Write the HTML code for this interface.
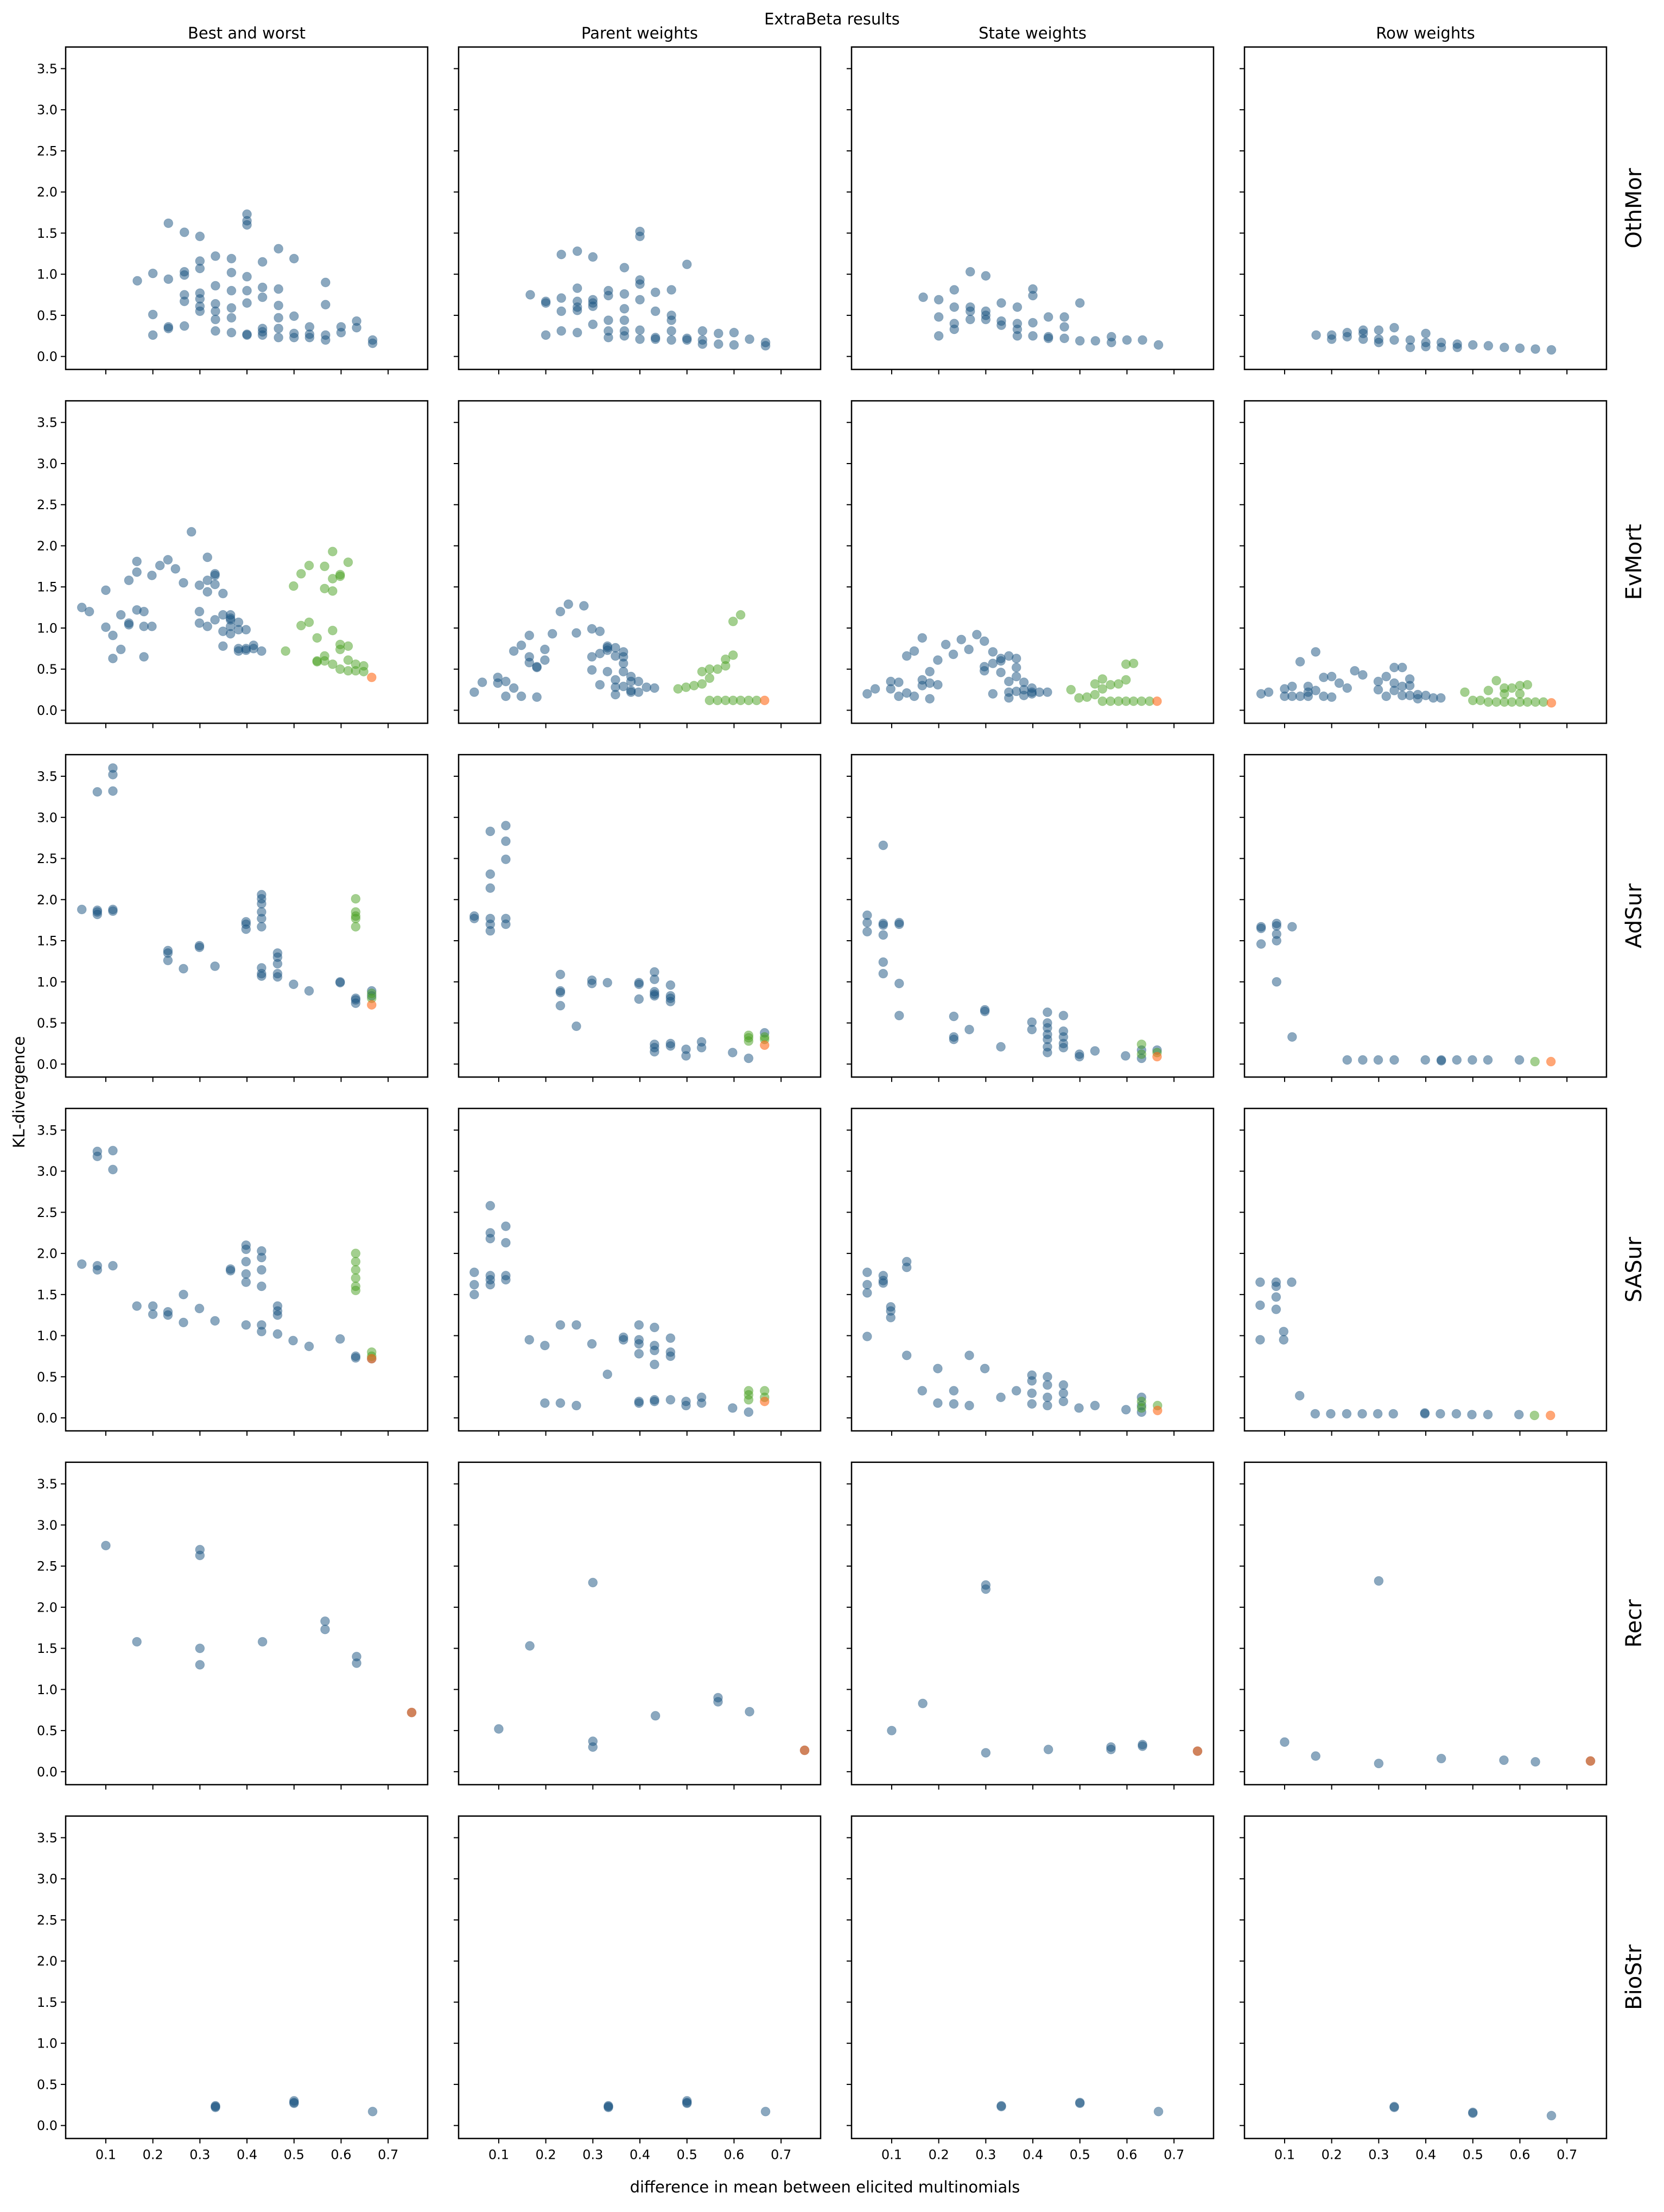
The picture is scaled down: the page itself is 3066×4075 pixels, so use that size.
<!DOCTYPE html>
<html><head><meta charset="utf-8">
<style>
html,body{margin:0;padding:0;background:#fff;}
svg text{font-family:"DejaVu Sans","Liberation Sans",sans-serif;fill:#000;}
</style></head>
<body>
<svg id="fig" xmlns="http://www.w3.org/2000/svg" width="3066" height="4070" viewBox="0 0 3066 4070">
<rect width="3066" height="4070" fill="#fff"/>
<text x="1533" y="45" font-size="29" text-anchor="middle">ExtraBeta results</text>
<text x="1520" y="4039" font-size="29" text-anchor="middle">difference in mean between elicited multinomials</text>
<text transform="translate(45,2012) rotate(-90)" font-size="29" text-anchor="middle">KL-divergence</text>
<g id="panels"></g>
</svg>
<script>
// Categories
const rowNames = ['OthMor','EvMort','AdSur','SASur','Recr','BioStr'];
const colNames = ['Best and worst','Parent weights','State weights','Row weights'];
const yTicks = [0.0,0.5,1.0,1.5,2.0,2.5,3.0,3.5];
const yTickLabels = ['0.0','0.5','1.0','1.5','2.0','2.5','3.0','3.5'];
const xTicks = [0.1,0.2,0.3,0.4,0.5,0.6,0.7];
const xTickLabels = ['0.1','0.2','0.3','0.4','0.5','0.6','0.7'];
// Each entry: [x, y1, y2, ...]
// ---- OthMor ----
const OthMor_best_blue = [[0.167,0.92],[0.2,1.01,0.51,0.26],[0.233,1.62,0.94,0.36,0.34],[0.267,1.51,1.03,0.99,0.75,0.67,0.37],[0.3,1.46,1.16,1.07,0.77,0.70,0.61,0.55],[0.333,1.22,0.86,0.64,0.55,0.45,0.31],[0.367,1.19,1.02,0.80,0.59,0.47,0.29],[0.4,1.73,1.65,1.60,0.97,0.80,0.65,0.26,0.27],[0.433,1.15,0.84,0.72,0.34,0.26,0.30],[0.467,1.31,0.82,0.62,0.47,0.34,0.23],[0.5,1.19,0.49,0.28,0.23],[0.533,0.36,0.23,0.27],[0.567,0.90,0.63,0.26,0.20],[0.6,0.36,0.29],[0.633,0.43,0.35],[0.667,0.20,0.16]];
const OthMor_parent_blue = [[0.167,0.75],[0.2,0.67,0.26,0.65],[0.233,1.24,0.71,0.55,0.31],[0.267,1.28,0.83,0.67,0.56,0.29,0.60],[0.3,1.21,0.69,0.61,0.39,0.65],[0.333,0.80,0.74,0.44,0.31,0.23],[0.367,1.08,0.76,0.58,0.44,0.31,0.25],[0.4,1.52,1.46,0.93,0.88,0.69,0.32,0.21],[0.433,0.78,0.55,0.21,0.23],[0.467,0.81,0.50,0.44,0.31,0.20],[0.5,1.12,0.20,0.22],[0.533,0.31,0.20,0.15],[0.567,0.28,0.15],[0.6,0.29,0.14],[0.633,0.21],[0.667,0.17,0.13]];
const OthMor_state_blue = [[0.167,0.72],[0.2,0.69,0.48,0.25],[0.233,0.81,0.60,0.33,0.40],[0.267,1.03,0.55,0.60,0.45],[0.3,0.98,0.50,0.55,0.45],[0.333,0.65,0.43,0.38],[0.367,0.60,0.33,0.40,0.25],[0.4,0.82,0.74,0.41,0.25],[0.433,0.48,0.24,0.22],[0.467,0.48,0.36,0.22],[0.5,0.65,0.19],[0.533,0.19],[0.567,0.24,0.17],[0.6,0.20],[0.633,0.20],[0.667,0.14]];
const OthMor_row_blue = [[0.167,0.26],[0.2,0.26,0.21],[0.233,0.29,0.24],[0.267,0.32,0.28,0.21],[0.3,0.32,0.21,0.17],[0.333,0.35,0.20],[0.367,0.20,0.11],[0.4,0.28,0.17,0.12],[0.433,0.17,0.11],[0.467,0.15,0.11],[0.5,0.14],[0.533,0.13],[0.567,0.11],[0.6,0.10],[0.633,0.09],[0.667,0.08]];
const OthMor_best_green = [], OthMor_parent_green = [], OthMor_state_green = [], OthMor_row_green = [];
const OthMor_best_orange = [], OthMor_parent_orange = [], OthMor_state_orange = [], OthMor_row_orange = [];
// ---- EvMort ----
const EvMort_best_blue = [[0.049,1.25],[0.065,1.20],[0.1,1.46,1.01],[0.115,0.91,0.63],[0.132,1.16,0.74],[0.149,1.58,1.06,1.04],[0.166,1.81,1.68,1.22],[0.181,1.20,1.02,0.65],[0.198,1.64,1.02],[0.215,1.76],[0.232,1.83],[0.248,1.72],[0.265,1.55],[0.282,2.17],[0.299,1.52,1.20,1.06],[0.316,1.86,1.58,1.44,1.02],[0.332,1.64,1.53,1.10,1.66],[0.349,1.42,1.16,0.96,0.78],[0.365,1.16,1.10,1.02,0.93,1.12],[0.382,1.07,0.98,0.75,0.72],[0.398,0.98,0.75,0.73],[0.414,0.79,0.75],[0.431,0.72]];
const EvMort_best_green = [[0.482,0.72],[0.499,1.51],[0.515,1.66,1.03],[0.532,1.76,1.07],[0.549,0.88,0.59,0.60],[0.565,1.75,1.48,0.66,0.60],[0.582,1.93,1.60,1.45,0.97,0.56],[0.598,1.65,1.63,0.80,0.74,0.50],[0.615,1.80,0.78,0.61,0.48],[0.631,0.56,0.48],[0.648,0.54,0.47]];
const EvMort_best_orange = [[0.665,0.40]];
const EvMort_parent_blue = [[0.048,0.22],[0.065,0.34],[0.098,0.40,0.33],[0.115,0.35,0.17],[0.132,0.72,0.27],[0.148,0.79,0.17],[0.165,0.91,0.65,0.58],[0.181,0.52,0.16,0.53],[0.198,0.74,0.61],[0.214,0.93],[0.231,1.20],[0.248,1.29],[0.265,0.94],[0.281,1.27],[0.298,0.99,0.65,0.49],[0.315,0.96,0.69,0.31],[0.331,0.78,0.73,0.47,0.76],[0.348,0.76,0.66,0.37,0.28,0.19],[0.365,0.71,0.65,0.57,0.47,0.29],[0.381,0.41,0.35,0.22,0.24],[0.397,0.35,0.22],[0.414,0.28],[0.431,0.27]];
const EvMort_parent_green = [[0.481,0.26],[0.498,0.28],[0.515,0.30],[0.532,0.32,0.47],[0.548,0.39,0.50,0.12],[0.565,0.50,0.12],[0.582,0.62,0.54,0.12],[0.598,0.67,1.08,0.12],[0.614,1.16,0.12],[0.631,0.12],[0.648,0.12]];
const EvMort_parent_orange = [[0.665,0.12]];
const EvMort_state_blue = [[0.048,0.20],[0.065,0.26],[0.098,0.35,0.26],[0.115,0.34,0.17],[0.132,0.66,0.21],[0.148,0.72,0.17],[0.165,0.88,0.37,0.30],[0.181,0.47,0.33,0.14],[0.198,0.61,0.31],[0.215,0.80],[0.231,0.68],[0.248,0.86],[0.264,0.74],[0.281,0.92],[0.297,0.84,0.53,0.48],[0.315,0.71,0.57,0.20],[0.332,0.63,0.46,0.60],[0.349,0.66,0.35,0.22,0.15],[0.365,0.63,0.52,0.41,0.23],[0.381,0.34,0.18,0.25],[0.398,0.27,0.20,0.22],[0.414,0.22],[0.431,0.22]];
const EvMort_state_green = [[0.481,0.25],[0.498,0.15],[0.515,0.16],[0.532,0.19,0.32],[0.548,0.38,0.26,0.11],[0.565,0.31,0.11],[0.582,0.32,0.11],[0.598,0.37,0.56,0.11],[0.614,0.57,0.11],[0.631,0.11],[0.648,0.11]];
const EvMort_state_orange = [[0.664,0.11]];
const EvMort_row_blue = [[0.05,0.20],[0.066,0.22],[0.1,0.26,0.17],[0.116,0.29,0.17],[0.133,0.59,0.17],[0.15,0.29,0.17,0.22],[0.166,0.71,0.24],[0.183,0.40,0.17],[0.2,0.41,0.16],[0.216,0.33],[0.233,0.27],[0.249,0.48],[0.266,0.43],[0.299,0.35,0.25],[0.316,0.41,0.17],[0.333,0.52,0.33,0.24],[0.35,0.52,0.29,0.18],[0.366,0.38,0.30,0.18],[0.383,0.19,0.14],[0.4,0.18],[0.416,0.15],[0.432,0.15]];
const EvMort_row_green = [[0.483,0.22],[0.5,0.12],[0.516,0.12],[0.533,0.24,0.10],[0.55,0.36,0.10],[0.567,0.27,0.20,0.10],[0.583,0.27,0.10],[0.6,0.30,0.20,0.10],[0.616,0.31,0.10],[0.633,0.10],[0.65,0.10]];
const EvMort_row_orange = [[0.667,0.09]];
// ---- AdSur ----
const AdSur_best_blue = [[0.049,1.88],[0.082,3.31,1.87,1.82,1.85],[0.115,3.60,3.52,3.32,1.86,1.88],[0.232,1.38,1.26,1.35],[0.265,1.16],[0.299,1.44,1.42],[0.332,1.19],[0.398,1.73,1.64,1.70],[0.431,2.06,2.01,1.95,1.85,1.77,1.67,1.17,1.07,1.10],[0.465,1.35,1.22,1.06,1.30,1.10],[0.499,0.97],[0.532,0.89],[0.598,0.99,1.00],[0.631,0.78,0.74,0.80],[0.665,0.89,0.83]];
const AdSur_best_green = [[0.631,2.01,1.85,1.77,1.67,1.80],[0.665,0.86,0.80]];
const AdSur_best_orange = [[0.665,0.72]];
const AdSur_parent_blue = [[0.048,1.80,1.77],[0.082,2.83,2.31,2.14,1.77,1.70,1.62],[0.115,2.90,2.71,2.49,1.77,1.70],[0.231,1.09,0.87,0.71,0.89],[0.265,0.46],[0.298,1.02,0.98],[0.331,0.99],[0.398,0.99,0.79,0.97],[0.431,1.12,1.03,0.88,0.83,0.24,0.15,0.85,0.20],[0.465,0.96,0.83,0.76,0.22,0.80,0.25],[0.498,0.18,0.10],[0.531,0.27,0.20],[0.597,0.14],[0.631,0.07],[0.665,0.38]];
const AdSur_parent_green = [[0.631,0.35,0.28,0.32],[0.665,0.33,0.30]];
const AdSur_parent_orange = [[0.665,0.23]];
const AdSur_state_blue = [[0.048,1.81,1.72,1.61],[0.082,2.66,1.71,1.69,1.57,1.24,1.10],[0.116,1.70,0.98,0.59,1.72],[0.232,0.58,0.33,0.30],[0.265,0.42],[0.298,0.64,0.66],[0.332,0.21],[0.398,0.51,0.42],[0.431,0.63,0.50,0.36,0.21,0.14,0.44,0.30],[0.465,0.59,0.33,0.20,0.40,0.25],[0.499,0.12,0.09],[0.532,0.16],[0.597,0.10],[0.631,0.07,0.17],[0.664,0.17]];
const AdSur_state_green = [[0.631,0.24,0.12],[0.664,0.14]];
const AdSur_state_orange = [[0.664,0.09]];
const AdSur_row_blue = [[0.05,1.67,1.46,1.65],[0.083,1.71,1.58,1.50,1.00,1.68],[0.116,1.67,0.33],[0.233,0.05],[0.266,0.05],[0.299,0.05],[0.333,0.05],[0.399,0.05],[0.433,0.05,0.04],[0.466,0.05],[0.499,0.05],[0.532,0.05],[0.599,0.05]];
const AdSur_row_green = [[0.632,0.03]];
const AdSur_row_orange = [[0.666,0.03]];
// ---- SASur ----
const SASur_best_blue = [[0.049,1.87],[0.082,3.24,3.18,1.85,1.80],[0.115,3.25,3.02,1.85],[0.166,1.36],[0.2,1.36,1.26],[0.232,1.29,1.25],[0.265,1.50,1.16],[0.299,1.33],[0.332,1.18],[0.365,1.79,1.81],[0.398,2.10,2.05,1.90,1.75,1.65,1.13],[0.431,2.03,1.95,1.80,1.60,1.13,1.05],[0.465,1.36,1.25,1.02,1.30],[0.498,0.94],[0.532,0.87],[0.598,0.96],[0.631,0.75,0.73],[0.665,0.72]];
const SASur_best_green = [[0.631,2.00,1.90,1.80,1.70,1.60,1.55],[0.665,0.80,0.75]];
const SASur_best_orange = [[0.665,0.72]];
const SASur_parent_blue = [[0.048,1.77,1.62,1.50],[0.082,2.58,2.25,2.18,1.73,1.68,1.62],[0.115,2.33,2.13,1.73,1.68],[0.165,0.95],[0.198,0.88,0.18],[0.231,1.13,0.18],[0.265,1.13,0.15],[0.298,0.90],[0.331,0.53],[0.365,0.98,0.95],[0.398,1.13,0.95,0.90,0.78,0.18,0.20],[0.431,1.10,0.88,0.82,0.65,0.22,0.20],[0.465,0.97,0.80,0.75,0.22],[0.498,0.20,0.15],[0.531,0.25,0.18],[0.597,0.12],[0.631,0.07]];
const SASur_parent_green = [[0.631,0.33,0.28,0.22],[0.665,0.33,0.25]];
const SASur_parent_orange = [[0.665,0.20]];
const SASur_state_blue = [[0.048,1.77,1.62,1.52,0.99],[0.082,1.73,1.67,1.64],[0.098,1.35,1.30,1.22],[0.132,1.90,1.83,0.76],[0.165,0.33],[0.198,0.60,0.18],[0.232,0.33,0.17],[0.265,0.76,0.15],[0.298,0.60],[0.332,0.25],[0.365,0.33],[0.398,0.52,0.45,0.30,0.17],[0.431,0.50,0.40,0.25,0.15],[0.465,0.40,0.30,0.20],[0.498,0.12],[0.532,0.15],[0.598,0.10],[0.631,0.07,0.25,0.15]];
const SASur_state_green = [[0.631,0.20,0.12],[0.665,0.15]];
const SASur_state_orange = [[0.665,0.09]];
const SASur_row_blue = [[0.048,1.65,1.37,0.95],[0.082,1.65,1.60,1.47,1.32],[0.098,1.05,0.95],[0.115,1.65],[0.132,0.27],[0.165,0.05],[0.198,0.05],[0.232,0.05],[0.265,0.05],[0.298,0.05],[0.331,0.05],[0.398,0.05,0.06],[0.431,0.05],[0.465,0.05],[0.498,0.04],[0.532,0.04],[0.598,0.04]];
const SASur_row_green = [[0.631,0.03]];
const SASur_row_orange = [[0.665,0.03]];
// ---- Recr ----
const Recr_best_blue = [[0.1,2.75],[0.166,1.58],[0.3,2.70,2.63,1.50,1.30],[0.433,1.58],[0.566,1.83,1.73],[0.633,1.40,1.32],[0.75,0.72]];
const Recr_parent_blue = [[0.1,0.52],[0.166,1.53],[0.3,2.30,0.37,0.30],[0.433,0.68],[0.566,0.90,0.85],[0.633,0.73],[0.75,0.26]];
const Recr_state_blue = [[0.1,0.50],[0.166,0.83],[0.3,2.27,2.22,0.23],[0.433,0.27],[0.566,0.30,0.27],[0.633,0.33,0.31],[0.75,0.25]];
const Recr_row_blue = [[0.1,0.36],[0.166,0.19],[0.3,2.32,0.10],[0.433,0.16],[0.566,0.14],[0.633,0.12],[0.75,0.13]];
const Recr_best_green = [], Recr_parent_green = [], Recr_state_green = [], Recr_row_green = [];
const Recr_best_orange = [[0.75,0.72]], Recr_parent_orange = [[0.75,0.26]], Recr_state_orange = [[0.75,0.25]], Recr_row_orange = [[0.75,0.13]];
// ---- BioStr ----
const BioStr_best_blue = [[0.333,0.24,0.22,0.23],[0.5,0.30,0.27,0.28],[0.667,0.17]];
const BioStr_parent_blue = [[0.333,0.24,0.22,0.23],[0.5,0.30,0.27,0.28],[0.667,0.17]];
const BioStr_state_blue = [[0.333,0.24,0.23],[0.5,0.27,0.28],[0.667,0.17]];
const BioStr_row_blue = [[0.333,0.23,0.22],[0.5,0.16,0.15],[0.667,0.12]];
const BioStr_best_green = [], BioStr_parent_green = [], BioStr_state_green = [], BioStr_row_green = [];
const BioStr_best_orange = [], BioStr_parent_orange = [], BioStr_state_orange = [], BioStr_row_orange = [];

const panelData = {
 OthMor:[[OthMor_best_blue,OthMor_best_green,OthMor_best_orange],[OthMor_parent_blue,OthMor_parent_green,OthMor_parent_orange],[OthMor_state_blue,OthMor_state_green,OthMor_state_orange],[OthMor_row_blue,OthMor_row_green,OthMor_row_orange]],
 EvMort:[[EvMort_best_blue,EvMort_best_green,EvMort_best_orange],[EvMort_parent_blue,EvMort_parent_green,EvMort_parent_orange],[EvMort_state_blue,EvMort_state_green,EvMort_state_orange],[EvMort_row_blue,EvMort_row_green,EvMort_row_orange]],
 AdSur:[[AdSur_best_blue,AdSur_best_green,AdSur_best_orange],[AdSur_parent_blue,AdSur_parent_green,AdSur_parent_orange],[AdSur_state_blue,AdSur_state_green,AdSur_state_orange],[AdSur_row_blue,AdSur_row_green,AdSur_row_orange]],
 SASur:[[SASur_best_blue,SASur_best_green,SASur_best_orange],[SASur_parent_blue,SASur_parent_green,SASur_parent_orange],[SASur_state_blue,SASur_state_green,SASur_state_orange],[SASur_row_blue,SASur_row_green,SASur_row_orange]],
 Recr:[[Recr_best_blue,Recr_best_green,Recr_best_orange],[Recr_parent_blue,Recr_parent_green,Recr_parent_orange],[Recr_state_blue,Recr_state_green,Recr_state_orange],[Recr_row_blue,Recr_row_green,Recr_row_orange]],
 BioStr:[[BioStr_best_blue,BioStr_best_green,BioStr_best_orange],[BioStr_parent_blue,BioStr_parent_green,BioStr_parent_orange],[BioStr_state_blue,BioStr_state_green,BioStr_state_orange],[BioStr_row_blue,BioStr_row_green,BioStr_row_orange]]
};

const NS='http://www.w3.org/2000/svg';
const X0=121, XSTEP=724, PW=667, Y0=86.6, YSTEP=651.8, PH=594;
const XMIN=0.0147, XMAX=0.784, YMIN=-0.158, YMAX=3.763;
function xScale(c,v){return X0+c*XSTEP+(v-XMIN)/(XMAX-XMIN)*PW;}
function yScale(r,v){return Y0+r*YSTEP+(YMAX-v)/(YMAX-YMIN)*PH;}
function mk(tag,attrs,parent){const e=document.createElementNS(NS,tag);for(const k in attrs)e.setAttribute(k,attrs[k]);parent.appendChild(e);return e;}
const root=document.getElementById('panels');
const seriesStyle=[['#17517f',0.5,'blue'],['#479f1f',0.5,'green'],['#ff6a1a',0.6,'orange']];

rowNames.forEach((rn,r)=>{
 colNames.forEach((cn,c)=>{
  const g=mk('g',{},root);
  
  
  const left=X0+c*XSTEP, top=Y0+r*YSTEP;
  yTicks.forEach((t,i)=>{
   const y=yScale(r,t);
   const tk=mk('line',{x1:left-9,x2:left,y1:y,y2:y,stroke:'#000','stroke-width':2},g);
   
   
   if(c===0){
    const tl=mk('text',{x:left-15,y:y+8.5,'font-size':24,'text-anchor':'end'},g);
    tl.textContent=yTickLabels[i];
    
    
   }
  });
  xTicks.forEach((t,i)=>{
   const x=xScale(c,t);
   const tk=mk('line',{x1:x,x2:x,y1:top+PH,y2:top+PH+9,stroke:'#000','stroke-width':2},g);
   
   
   if(r===rowNames.length-1){
    const tl=mk('text',{x:x,y:top+PH+38,'font-size':24,'text-anchor':'middle'},g);
    tl.textContent=xTickLabels[i];
    
    
   }
  });
  const sets=panelData[rn][c];
  sets.forEach((arr,si)=>{
   const st=seriesStyle[si];
   arr.forEach(col=>{
    for(let k=1;k<col.length;k++){
     const p=mk('circle',{cx:xScale(c,col[0]),cy:yScale(r,col[k]),r:8.3,fill:st[0],'fill-opacity':st[1],stroke:st[0],'stroke-opacity':st[1]*0.6,'stroke-width':1},g);
     
     
    }
   });
  });
  const fr=mk('rect',{x:left,y:top,width:PW,height:PH,fill:'none',stroke:'#000','stroke-width':2.5},g);
  
  
  if(r===0){
   const t=mk('text',{x:left+PW/2,y:71,'font-size':29,'text-anchor':'middle'},g);
   t.textContent=cn;
   
   
  }
  if(c===colNames.length-1){
   const t=mk('text',{transform:'translate(3024,'+(top+PH/2)+') rotate(-90)','font-size':40,'text-anchor':'middle'},g);
   t.textContent=rn;
   
   
  }
 });
});
</script>
</body></html>
